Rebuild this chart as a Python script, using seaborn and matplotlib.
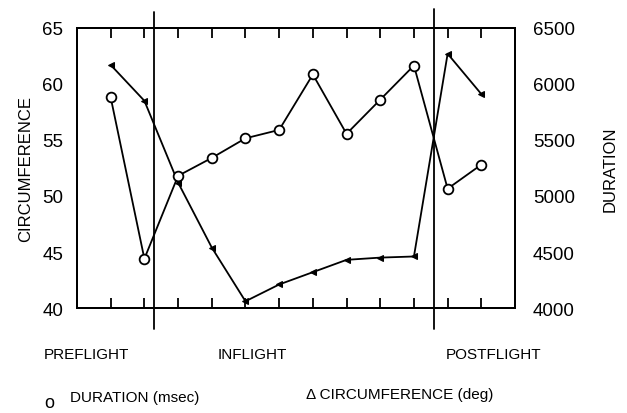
import matplotlib
matplotlib.use("Agg")
import matplotlib.pyplot as plt
import seaborn as sns
import pandas as pd

# ---- data ----
session = [1, 2, 3, 4, 5, 6, 7, 8, 9, 10, 11, 12]
duration_msec = [5880, 4440, 5180, 5340, 5515, 5590, 6085, 5555, 5860, 6165, 5065, 5280]
circumference_deg = [61.7, 58.5, 51.2, 45.4, 40.6, 42.1, 43.2, 44.3, 44.5, 44.6, 62.7, 59.1]
phase_labels = ["PREFLIGHT", "INFLIGHT", "POSTFLIGHT"]
phase_boundaries = [2.3, 10.6]
left_ticks = [40, 45, 50, 55, 60, 65]
right_ticks = [4000, 4500, 5000, 5500, 6000, 6500]

df = pd.DataFrame({"session": session, "duration": duration_msec,
                   "circ": circumference_deg})

sns.set_style("white")
narrow = ["Liberation Sans Narrow", "Liberation Sans", "DejaVu Sans"]
plt.rcParams["font.family"] = ["Liberation Sans", "DejaVu Sans"]
for k in ("text.color", "axes.labelcolor", "xtick.color", "ytick.color"):
    plt.rcParams[k] = "black"

fig = plt.figure(figsize=(6.27, 4.14), dpi=100)
ax = fig.add_axes([0.1228, 0.2536, 0.6986, 0.6764])
ax2 = ax.twinx()

sns.lineplot(data=df, x="session", y="circ", ax=ax, color="black", lw=1.3,
             marker="<", markersize=5, markeredgecolor="black",
             markerfacecolor="black")
sns.lineplot(data=df, x="session", y="duration", ax=ax2, color="black", lw=1.3,
             marker="o", markersize=7, markeredgecolor="black",
             markerfacecolor="white", markeredgewidth=1.3)

ax.set_xlim(0, 13)
ax.set_ylim(40, 65)
ax2.set_ylim(4000, 6500)
ax.set_yticks(left_ticks)
ax2.set_yticks(right_ticks)
ax.set_xticks(session)
ax.set_xticklabels([])
ax.tick_params(axis="x", which="both", direction="in", length=7, width=1.3,
               top=True, bottom=True, labelbottom=False)
ax.tick_params(axis="y", length=0, pad=10, labelsize=13.5)
ax2.tick_params(axis="y", length=0, pad=13, labelsize=13.5)
for a in (ax, ax2):
    for s in a.spines.values():
        s.set_linewidth(1.4)
        s.set_color("black")

ax.set_xlabel("")
ax.set_ylabel("CIRCUMFERENCE", fontsize=12, family=narrow)
ax.yaxis.set_label_coords(-0.100, 0.5)
ax2.set_ylabel("DURATION", fontsize=12, family=narrow, rotation=90)
ax2.yaxis.set_label_coords(1.200, 0.5)

tops = [1.057, 1.068]
for xb, t in zip(phase_boundaries, tops):
    ax.axvline(xb, ymin=-0.075, ymax=t, color="black", lw=1.3, clip_on=False)

phase_x = [44 / 627, 218 / 627, 446 / 627]
for lab, px in zip(phase_labels, phase_x):
    fig.text(px, 1 - 355 / 414, lab, fontsize=11, family=narrow,
             ha="left", va="center")

fig.text(44 / 627, 1 - 404 / 414, "o", fontsize=13, family=narrow,
         ha="left", va="center")
fig.text(70 / 627, 1 - 398 / 414, "DURATION (msec)", fontsize=11,
         family=narrow, ha="left", va="center")
fig.text(306 / 627, 1 - 395 / 414, "\u0394 CIRCUMFERENCE (deg)", fontsize=11,
         family=narrow, ha="left", va="center")

fig.savefig("out.png", dpi=100, facecolor="white")
